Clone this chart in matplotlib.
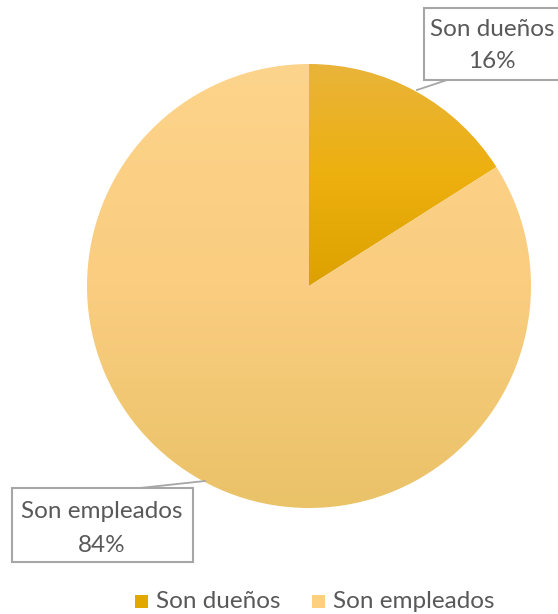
import numpy as np
import matplotlib
matplotlib.use("Agg")
import matplotlib.pyplot as plt
from matplotlib.colors import LinearSegmentedColormap
from matplotlib.patches import Rectangle
from matplotlib.lines import Line2D

labels = ["Son dueños", "Son empleados"]
values = [16, 84]
pct_labels = ["16%", "84%"]

W, H = 558, 614
TXT = "#595959"
FS = 17.5
plt.rcParams["font.family"] = ["Lato", "DejaVu Sans"]

# gradientes (abajo -> arriba) y su extensión vertical
grads = [
    LinearSegmentedColormap.from_list("g0", ["#DCA100", "#EDB00E", "#E9B43A"]),
    LinearSegmentedColormap.from_list("g1", ["#EAC268", "#FACD80", "#FDD48B"]),
]
extents = [[0, 1, 0, 1], [-1, 1, -1, 1]]

fig = plt.figure(figsize=(W / 100, H / 100), dpi=100)

def fx(x):
    return x / W

def fy(y):
    return 1 - y / H

cx, cy, r = 309, 286, 222
ax = fig.add_axes([fx(cx - r), fy(cy + r), 2 * r / W, 2 * r / H])
ax.axis("off")

wedges, _ = ax.pie(values, startangle=90, counterclock=False, radius=1,
                   colors=["none", "none"], wedgeprops=dict(linewidth=0))
grad = np.linspace(0, 1, 256).reshape(-1, 1)
for w, cm, ext in zip(wedges, grads, extents):
    im = ax.imshow(grad, cmap=cm, extent=ext, origin="lower",
                   aspect="auto", interpolation="bilinear")
    im.set_clip_path(w)
ax.set_xlim(-1, 1)
ax.set_ylim(-1, 1)

# etiquetas con recuadro
boxes = [(424, 8, 600, 80), (12, 488, 193, 562)]
text_pos = [(492, 30, 62), (102, 512, 546)]
leaders = [[(417, 90), (447, 80)], [(140, 488), (205, 481)]]
for i in range(len(labels)):
    x0, y0, x1, y1 = boxes[i]
    fig.patches.append(Rectangle((fx(x0), fy(y1)), (x1 - x0) / W, (y1 - y0) / H,
                                 transform=fig.transFigure, facecolor="white",
                                 edgecolor="#A6A6A6", linewidth=1.5))
    (a, b) = leaders[i]
    fig.lines.append(Line2D([fx(a[0]), fx(b[0])], [fy(a[1]), fy(b[1])],
                            transform=fig.transFigure, color="#A6A6A6", linewidth=1.3))
    tx, ty1, ty2 = text_pos[i]
    fig.text(fx(tx), fy(ty1), labels[i], ha="center", va="center", fontsize=FS, color=TXT)
    fig.text(fx(tx), fy(ty2), pct_labels[i], ha="center", va="center", fontsize=FS, color=TXT)

# leyenda
leg_colors = ["#E3A800", "#FDD080"]
sq_x = [135, 312]
for i in range(len(labels)):
    fig.patches.append(Rectangle((fx(sq_x[i]), fy(608)), 13 / W, 13 / H,
                                 transform=fig.transFigure, facecolor=leg_colors[i],
                                 edgecolor="none"))
    fig.text(fx(sq_x[i] + 21), fy(601), labels[i], ha="left", va="center",
             fontsize=FS, color=TXT)

fig.savefig("out.png", dpi=100)
